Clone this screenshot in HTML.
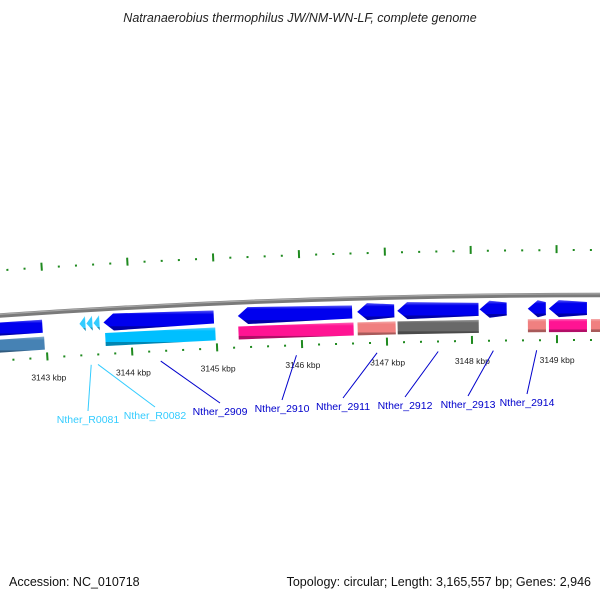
<!DOCTYPE html>
<html><head><meta charset="utf-8"><style>
body{margin:0;background:#fff}
svg{display:block;font-family:"Liberation Sans","DejaVu Sans",sans-serif}
</style></head><body>
<svg id="map" width="600" height="600" viewBox="0 0 600 600">
<defs>
<linearGradient id="gb" x1="0" y1="0" x2="0" y2="1"><stop offset="0" stop-color="#5a5aff"/><stop offset="0.2" stop-color="#0000ee"/><stop offset="0.78" stop-color="#0000ee"/><stop offset="0.8" stop-color="#00008c"/><stop offset="1" stop-color="#00008c"/></linearGradient>
<linearGradient id="shade" x1="0" y1="0" x2="0" y2="1"><stop offset="0" stop-color="#fff" stop-opacity="0.35"/><stop offset="0.2" stop-color="#fff" stop-opacity="0"/><stop offset="0.78" stop-color="#000" stop-opacity="0"/><stop offset="0.8" stop-color="#000" stop-opacity="0.3"/><stop offset="1" stop-color="#000" stop-opacity="0.3"/></linearGradient>
</defs>
<text x="300" y="22" text-anchor="middle" font-style="italic" font-size="12.5" fill="#222">Natranaerobius thermophilus JW/NM-WN-LF, complete genome</text>
<g id="ticks"></g>
<g id="backbone"></g>
<g id="genes"></g>
<g id="labels"></g>
<text x="9" y="586" font-size="12.5" fill="#111">Accession: NC_010718</text>
<text x="591" y="586" text-anchor="end" font-size="12.5" fill="#111">Topology: circular; Length: 3,165,557 bp; Genes: 2,946</text>
</svg>
<script>
// data
const geneNames=["g-left","Nther_R0081a","Nther_R0081b","Nther_R0082","Nther_2909","Nther_2910","Nther_2911","Nther_2912","Nther_2913","Nther_2914","g-right","c-left","c-2909","c-2910","c-2911","c-2912","c-2914a","c-2914b","c-right"];
const geneStarts=[3142200,3143400,3143482,3143565,3143682,3145259,3146659,3147129,3148094,3148659,3148906,3142200,3143694,3145259,3146659,3147129,3148659,3148906,3149400];
const geneEnds=[3142965,3143470,3143552,3143635,3144977,3146600,3147094,3148082,3148412,3148871,3149353,3142977,3144988,3146612,3147106,3148082,3148871,3149353,3149900];
const geneRows=[0,0,0,0,0,0,0,0,0,0,0,1,1,1,1,1,1,1,1];
const geneStrand=[0,-1,-1,-1,-1,-1,-1,-1,-1,-1,-1,0,0,0,0,0,0,0,0];
const geneColors=["#0000ee","#33ccff","#33ccff","#33ccff","#0000ee","#0000ee","#0000ee","#0000ee","#0000ee","#0000ee","#0000ee","#4682b4","#00bfff","#ff1493","#f08080","#696969","#f08080","#ff1493","#f08080"];
const kbpTicks=[3143,3144,3145,3146,3147,3148,3149];
const labelNames=["Nther_R0081","Nther_R0082","Nther_2909","Nther_2910","Nther_2911","Nther_2912","Nther_2913","Nther_2914"];
const labelBp=[3143510,3143590,3144330,3145930,3146880,3147600,3148250,3148760];
const labelColors=["#33ccff","#33ccff","#0000cc","#0000cc","#0000cc","#0000cc","#0000cc","#0000cc"];
const labelX=[88,155,220,282,343,405,468,527];
const labelY=[423,419,415,412,410,409,408,406];

const NS="http://www.w3.org/2000/svg";
const R=8800, CX=600, CY=295+8800, BPTOP=3149506, PXKB=85, RT=8755;
function ang(bp){return (bp-BPTOP)/1000*PXKB/RT;}
function P(bp,off){const t=ang(bp),r=R-off;return [CX+r*Math.sin(t),CY-r*Math.cos(t)];}
function mk(tag,attrs,parent){const e=document.createElementNS(NS,tag);for(const k in attrs)e.setAttribute(k,attrs[k]);parent.appendChild(e);return e;}
function arcPath(b1,b2,off){const a=P(b1,off),b=P(b2,off);return `M${a[0]},${a[1]} A${R-off},${R-off} 0 0 1 ${b[0]},${b[1]}`;}

// backbone
const bbG=document.getElementById('backbone');
const bb=mk('path',{d:arcPath(3141000,3151000,0),stroke:'#7a7a7a','stroke-width':4.5,fill:'none'},bbG);


const bb2=mk('path',{d:arcPath(3141000,3151000,-1.2),stroke:'#a8a8a8','stroke-width':1.2,fill:'none'},bbG);



// ticks
const tG=document.getElementById('ticks');
for(let bp=3141800;bp<=3150200;bp+=200){
  const major=bp%1000===0;
  [[40,48,44,46],[-50,-42,-46,-44]].forEach((o,i)=>{
    const a=P(bp,major?o[0]:o[2]),b=P(bp,major?o[1]:o[3]);
    const l=mk('line',{x1:a[0],y1:a[1],x2:b[0],y2:b[1],stroke:'#1f8a1f','stroke-width':2},tG);
    
    
  });
}
kbpTicks.forEach(k=>{
  const p=P(k*1000,68);
  const t=mk('text',{x:p[0],y:p[1],'text-anchor':'middle','font-size':8.5,fill:'#222'},tG);
  t.textContent=k+' kbp';
  
  
});

// genes
const gG=document.getElementById('genes');
const rowOff=[[7,20],[24,37]];
geneNames.forEach((n,i)=>{
  const [o1,o2]=rowOff[geneRows[i]];
  const s=geneStarts[i],e=geneEnds[i],st=geneStrand[i];
  let pts=[];
  const head=Math.min(118,(e-s)*0.9);
  if(st===-1){
    pts=[P(s,(o1+o2)/2),P(s+head,o1-2),P(e,o1-0),P(e,o2),P(s+head,o2+2)];
    if(e-s<200){pts=[P(s,(o1+o2)/2),P(e,o1-1),P(e,o2+1)];}
  } else {
    pts=[P(s,o1),P(e,o1),P(e,o2),P(s,o2)];
  }
  const d=pts.map(p=>p[0].toFixed(2)+','+p[1].toFixed(2)).join(' ');
  const g=mk('g',{},gG);
  
  
  mk('polygon',{points:d,fill:geneColors[i]},g);
  mk('polygon',{points:d,fill:'url(#shade)'},g);
});

// labels
const lG=document.getElementById('labels');
labelNames.forEach((n,i)=>{
  const a=P(labelBp[i],55);
  const ln=mk('line',{x1:a[0],y1:a[1],x2:labelX[i],y2:labelY[i]-12,stroke:labelColors[i],'stroke-width':1},lG);
  
  
  const t=mk('text',{x:labelX[i],y:labelY[i],'text-anchor':'middle','font-size':10.5,fill:labelColors[i]},lG);
  t.textContent=n;
  
  
});
</script>
</body></html>
